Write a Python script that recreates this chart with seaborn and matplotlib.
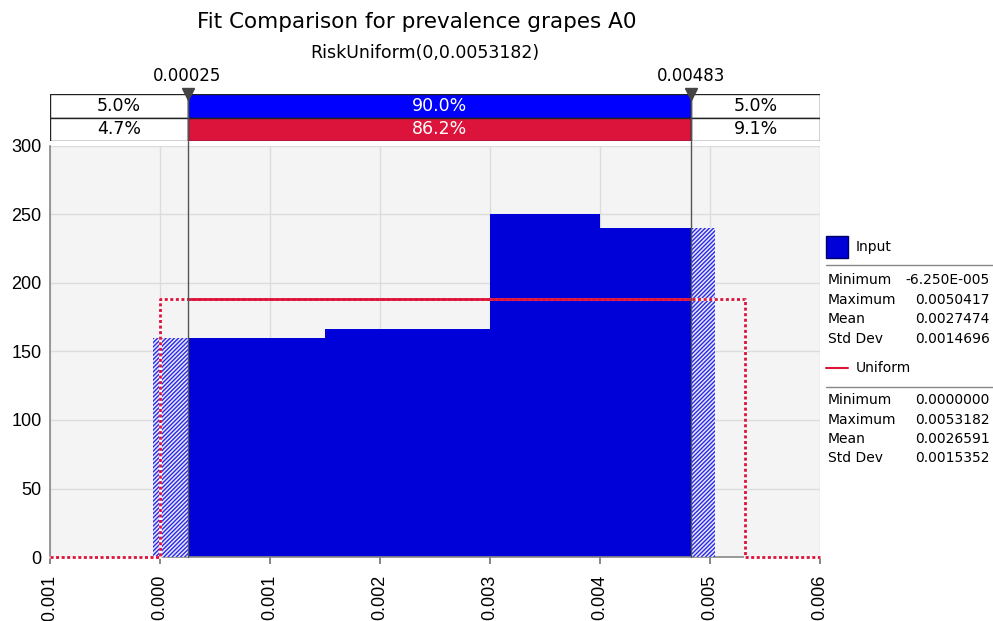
import numpy as np
import pandas as pd
import matplotlib.pyplot as plt
import seaborn as sns

sns.set_theme(style="whitegrid")
plt.rcParams["font.family"] = ["DejaVu Sans"]
plt.rcParams["hatch.linewidth"] = 1.0
plt.rcParams["text.color"] = "black"
plt.rcParams["xtick.color"] = "black"
plt.rcParams["ytick.color"] = "black"

# data
bin_edges = [-0.0000625, 0.0015, 0.003, 0.004, 0.0050417]
bin_heights = [160, 166.7, 250, 240]
uni_lo, uni_hi = 0.0, 0.0053182
delims = [0.00025, 0.00483]
delim_labels = ["0.00025", "0.00483"]
input_pct = ["5.0%", "90.0%", "5.0%"]
fit_pct = ["4.7%", "86.2%", "9.1%"]
stat_names = ["Minimum", "Maximum", "Mean", "Std Dev"]
input_stats = ["-6.250E-005", "0.0050417", "0.0027474", "0.0014696"]
fit_stats = ["0.0000000", "0.0053182", "0.0026591", "0.0015352"]
x_ticks = [-0.001, 0.0, 0.001, 0.002, 0.003, 0.004, 0.005, 0.006]
y_ticks = [0, 50, 100, 150, 200, 250, 300]

BLUE = "#0000d8"
RED = "#dc143c"
xmin, xmax = -0.001, 0.006

W, H = 993, 621
fig = plt.figure(figsize=(W / 100, H / 100), dpi=100)
ax = fig.add_axes([50 / W, (H - 557) / H, 770 / W, 411 / H])
axt = fig.add_axes([50 / W, (H - 141) / H, 770 / W, 47 / H])

# histogram of the input
centers = [(a + b) / 2 for a, b in zip(bin_edges[:-1], bin_edges[1:])]
hist_df = pd.DataFrame({"x": centers, "h": bin_heights})
sns.histplot(data=hist_df, x="x", weights="h", bins=bin_edges, element="step",
             fill=True, color=BLUE, alpha=1, linewidth=0, ax=ax, zorder=2)

# hatched tails outside the delimiters
for x0, x1, h in [(bin_edges[0], delims[0], bin_heights[0]),
                  (delims[1], bin_edges[-1], bin_heights[-1])]:
    ax.fill_between([x0, x1], 0, h, facecolor="#e8e8ff",
                    edgecolor="#2a2ae6", hatch="////////", linewidth=0, zorder=3)

# uniform fit
dens = 1 / (uni_hi - uni_lo)
ux = [xmin, uni_lo, uni_lo, uni_hi, uni_hi, xmax]
uy = [0, 0, dens, dens, 0, 0]
ax.plot(ux, uy, color="white", lw=2, zorder=4, clip_on=False)
ax.plot(ux, uy, color=RED, lw=2, ls=(0, (1.1, 0.9)), zorder=5, clip_on=False)
ax.plot(delims, [dens, dens], color=RED, lw=2, zorder=6)

# delimiter lines
for d in delims:
    ax.plot([d, d], [0, 304], color="#555555", lw=1, zorder=7, clip_on=False)

ax.set_xlim(xmin, xmax)
ax.set_ylim(0, 300)
ax.set_facecolor("#f4f4f4")
ax.grid(True, color="#dcdcdc", lw=1)
ax.set_axisbelow(True)
ax.set_xticks(x_ticks)
ax.set_xticklabels([f"{t:.3f}" for t in x_ticks], rotation=90,
                   family="Liberation Sans", fontsize=13)
ax.set_yticks(y_ticks)
ax.set_yticklabels([str(t) for t in y_ticks], family="Liberation Sans", fontsize=13)
ax.tick_params(axis="x", length=5, color="#777777", pad=8, bottom=True)
ax.tick_params(axis="y", length=0, pad=6)
ax.set_xlabel("")
ax.set_ylabel("")
for s in ["top", "right"]:
    ax.spines[s].set_visible(False)
for s in ["left", "bottom"]:
    ax.spines[s].set_color("#888888")
    ax.spines[s].set_linewidth(1.2)

# delimiter table on top
lefts = [xmin, delims[0], delims[1]]
widths = [delims[0] - xmin, delims[1] - delims[0], xmax - delims[1]]
axt.barh([1.5] * 3, widths, left=lefts, height=1, color=["white", "#0000ff", "white"],
         edgecolor="#222222", lw=1)
axt.barh([0.5] * 3, widths, left=lefts, height=1, color=["white", RED, "white"],
         edgecolor="#222222", lw=1)
for i in range(3):
    cx = lefts[i] + widths[i] / 2
    col = "white" if i == 1 else "black"
    axt.text(cx, 1.5, input_pct[i], ha="center", va="center", color=col, fontsize=12.5)
    axt.text(cx, 0.5, fit_pct[i], ha="center", va="center", color=col, fontsize=12.5)
for d, lab in zip(delims, delim_labels):
    axt.plot([d, d], [0, 2], color="#555555", lw=1)
    axt.plot([d], [2.0], marker="v", color="#444444", markersize=9, clip_on=False)
    axt.text(d, 2.77, lab, ha="center", va="center", fontsize=12)
axt.set_xlim(xmin, xmax)
axt.set_ylim(0, 2)
axt.axis("off")

# titles
fig.text(417 / W, 1 - 22 / H, "Fit Comparison for prevalence grapes A0",
         ha="center", va="center", fontsize=15.5)
fig.text(425 / W, 1 - 53 / H, "RiskUniform(0,0.0053182)",
         ha="center", va="center", fontsize=12.5)

# legend panel (pixel coordinates relative to its corner)
axl = fig.add_axes([822 / W, (H - 470) / H, 171 / W, 245 / H])
axl.set_xlim(0, 171)
axl.set_ylim(245, 0)
axl.axis("off")
axl.add_patch(plt.Rectangle((4, 11), 22, 22, facecolor=BLUE, edgecolor="#000066", lw=1))
axl.text(34, 22, "Input", va="center", fontsize=10)
axl.plot([4, 171], [40, 40], color="#888888", lw=1)
for i, (n, v) in enumerate(zip(stat_names, input_stats)):
    axl.text(6, 55 + 19.5 * i, n, va="center", fontsize=10)
    axl.text(168, 55 + 19.5 * i, v, va="center", ha="right", fontsize=10)
axl.plot([4, 26], [143, 143], color=RED, lw=1.5)
axl.text(34, 143, "Uniform", va="center", fontsize=10)
axl.plot([4, 171], [162, 162], color="#888888", lw=1)
for i, (n, v) in enumerate(zip(stat_names, fit_stats)):
    axl.text(6, 175 + 19.5 * i, n, va="center", fontsize=10)
    axl.text(168, 175 + 19.5 * i, v, va="center", ha="right", fontsize=10)

fig.savefig("out.png", dpi=100)
